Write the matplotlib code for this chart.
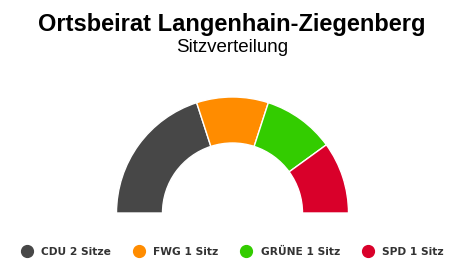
import matplotlib.pyplot as plt
from matplotlib.patches import Wedge
from matplotlib.lines import Line2D

# seat distribution
parties = ['CDU', 'FWG', 'GRÜNE', 'SPD']
seats = [2, 1, 1, 1]
labels = ['CDU 2 Sitze', 'FWG 1 Sitz', 'GRÜNE 1 Sitz', 'SPD 1 Sitz']
colors = ['#474747', '#ff8c00', '#33cc00', '#d9002a']

fig = plt.figure(figsize=(4.64, 2.8), dpi=100)
ax = fig.add_axes([0, 0, 1, 1])
ax.set_xlim(0, 464)
ax.set_ylim(0, 280)
ax.axis('off')

# half donut, drawn clockwise from the left
cx, cy = 232.5, 67
r_out, width = 116, 46
total = sum(seats)
start = 180.0
for s, c in zip(seats, colors):
    span = 180.0 * s / total
    ax.add_patch(Wedge((cx, cy), r_out, start - span, start, width=width,
                       facecolor=c, edgecolor='white', linewidth=1))
    start -= span

fig.text(0.5, 1 - 24 / 280, 'Ortsbeirat Langenhain-Ziegenberg', ha='center', va='center',
         fontsize=17, fontweight='bold', family='Liberation Sans')
fig.text(0.5, 1 - 47 / 280, 'Sitzverteilung', ha='center', va='center',
         fontsize=13.5, family='Liberation Sans')

handles = [Line2D([], [], marker='o', linestyle='none', markersize=8.5,
                  markerfacecolor=c, markeredgecolor=c) for c in colors]
leg = fig.legend(handles, labels, loc='center', bbox_to_anchor=(0.5, 1 - 252 / 280),
                 ncol=4, frameon=False, handletextpad=0.75, columnspacing=2.0,
                 handlelength=1.2,
                 prop={'family': 'DejaVu Sans', 'weight': 'bold', 'size': 7.7})
for t in leg.get_texts():
    t.set_color('#333333')

fig.savefig('out.png', dpi=100)
